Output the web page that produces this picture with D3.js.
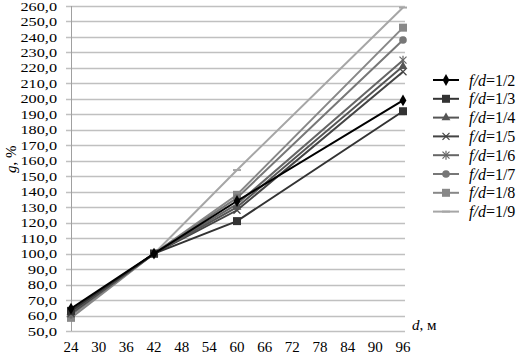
<!DOCTYPE html>
<html>
<head>
<meta charset="utf-8">
<script src="https://cdn.jsdelivr.net/npm/d3@7"></script>
<style>
  body { margin: 0; background: #fff; }
  text { font-family: "Liberation Serif", "DejaVu Serif", serif; fill: #000; }
</style>
</head>
<body>
<svg id="chart" width="529" height="356"></svg>
<script>
// x values (d, m) and tick labels
var dVals = [24, 42, 60, 96];
var xTicks = [24, 30, 36, 42, 48, 54, 60, 66, 72, 78, 84, 90, 96];
var yTicks = d3.range(50, 261, 10);

// series names
var names = ["1/2", "1/3", "1/4", "1/5", "1/6", "1/7", "1/8", "1/9"];

// g, % for each series at d = 24, 42, 60, 96
var s12 = [64.5, 100, 134, 199];
var s13 = [63, 100, 121, 192];
var s14 = [62, 100, 130, 221];
var s15 = [61.5, 100, 128, 217.5];
var s16 = [61, 100, 132, 225];
var s17 = [60.5, 100, 136, 238];
var s18 = [58.5, 100, 138, 246];
var s19 = [60, 100, 154, 259];

var series = [s12, s13, s14, s15, s16, s17, s18, s19];
var colors = ["#000000", "#333333", "#555555", "#444444", "#666666", "#777777", "#888888", "#a6a6a6"];
var markers = ["diamond", "square", "triangle", "cross", "star", "circle", "square", "dash"];

var svg = d3.select("#chart");

var x = d3.scaleLinear().domain([24, 96]).range([71, 403]);
var y = d3.scaleLinear().domain([50, 260]).range([331, 6]);

// gridlines
svg.append("g")
  .selectAll("line")
  .data(yTicks)
  .enter()
  .append("line")
  .attr("x1", 66)
  .attr("x2", 405)
  .attr("y1", function(d) { return Math.round(y(d)) + 0.5; })
  .attr("y2", function(d) { return Math.round(y(d)) + 0.5; })
  .attr("stroke", "#c0c0c0")
  .attr("stroke-width", 1.3);

// y axis line
svg.append("line")
  .attr("x1", 71.5).attr("x2", 71.5)
  .attr("y1", y(260)).attr("y2", y(50))
  .attr("stroke", "#a0a0a0");

// y tick labels
svg.append("g")
  .selectAll("text")
  .data(yTicks)
  .enter()
  .append("text")
  .attr("x", 57)
  .attr("y", function(d) { return y(d); })
  .attr("dy", "0.35em")
  .attr("text-anchor", "end")
  .attr("font-size", 13)
  .attr("textLength", function(d) { return d.toFixed(1).length * 7.3; })
  .attr("lengthAdjust", "spacingAndGlyphs")
  .text(function(d) { return d.toFixed(1).replace(".", ","); });

// x tick labels
svg.append("g")
  .selectAll("text")
  .data(xTicks)
  .enter()
  .append("text")
  .attr("x", function(d) { return x(d); })
  .attr("y", 352)
  .attr("text-anchor", "middle")
  .attr("font-size", 15)
  .text(function(d) { return d; });

// axis titles
var xt = svg.append("text").attr("x", 412).attr("y", 330).attr("font-size", 15);
xt.append("tspan").attr("font-style", "italic").text("d");
xt.append("tspan").text(", м");

var yt = svg.append("text")
  .attr("transform", "translate(16,173) rotate(-90)")
  .attr("font-size", 15);
yt.append("tspan").attr("font-style", "italic").text("g");
yt.append("tspan").text(", %");

var line = d3.line()
  .x(function(d, i) { return x(dVals[i]); })
  .y(function(d) { return y(d); });

function drawMarker(g, type, cx, cy, color) {
  if (type == "diamond") {
    g.append("path").attr("d", d3.symbol(d3.symbolDiamond, 40)()).attr("transform", "translate(" + cx + "," + cy + ")").attr("fill", color);
  } else if (type == "square") {
    g.append("rect").attr("x", cx - 4).attr("y", cy - 4).attr("width", 8).attr("height", 8).attr("fill", color);
  } else if (type == "triangle") {
    g.append("path").attr("d", d3.symbol(d3.symbolTriangle, 34)()).attr("transform", "translate(" + cx + "," + cy + ")").attr("fill", color);
  } else if (type == "circle") {
    g.append("circle").attr("cx", cx).attr("cy", cy).attr("r", 3.8).attr("fill", color);
  } else if (type == "cross" || type == "star") {
    g.append("path").attr("d", "M" + (cx - 3.5) + "," + (cy - 3.5) + "L" + (cx + 3.5) + "," + (cy + 3.5) + "M" + (cx - 3.5) + "," + (cy + 3.5) + "L" + (cx + 3.5) + "," + (cy - 3.5))
      .attr("stroke", color).attr("stroke-width", 1.2);
    if (type == "star") {
      g.append("path").attr("d", "M" + cx + "," + (cy - 4.5) + "L" + cx + "," + (cy + 4.5)).attr("stroke", color).attr("stroke-width", 1.2);
    }
  } else if (type == "dash") {
    g.append("path").attr("d", "M" + (cx - 4) + "," + cy + "L" + (cx + 4) + "," + cy).attr("stroke", color).attr("stroke-width", 2);
  }
}

// lines, drawn last series first so darker ones sit on top
for (var k = series.length - 1; k >= 0; k--) {
  var g = svg.append("g");
  g.append("path")
    .datum(series[k])
    .attr("d", line)
    .attr("fill", "none")
    .attr("stroke", colors[k])
    .attr("stroke-width", 2);
  series[k].forEach(function(v, i) {
    drawMarker(g, markers[k], x(dVals[i]), y(v), colors[k]);
  });
}

// legend
var leg = svg.append("g");
names.forEach(function(n, k) {
  var ly = 80 + k * 18.8;
  leg.append("line")
    .attr("x1", 433).attr("x2", 459)
    .attr("y1", ly).attr("y2", ly)
    .attr("stroke", colors[k]).attr("stroke-width", 2);
  drawMarker(leg, markers[k], 446, ly, colors[k]);
  var t = leg.append("text").attr("x", 469).attr("y", ly).attr("dy", "0.35em").attr("font-size", 16);
  t.append("tspan").attr("font-style", "italic").text("f/d");
  t.append("tspan").text("=" + n);
});
</script>
</body>
</html>
